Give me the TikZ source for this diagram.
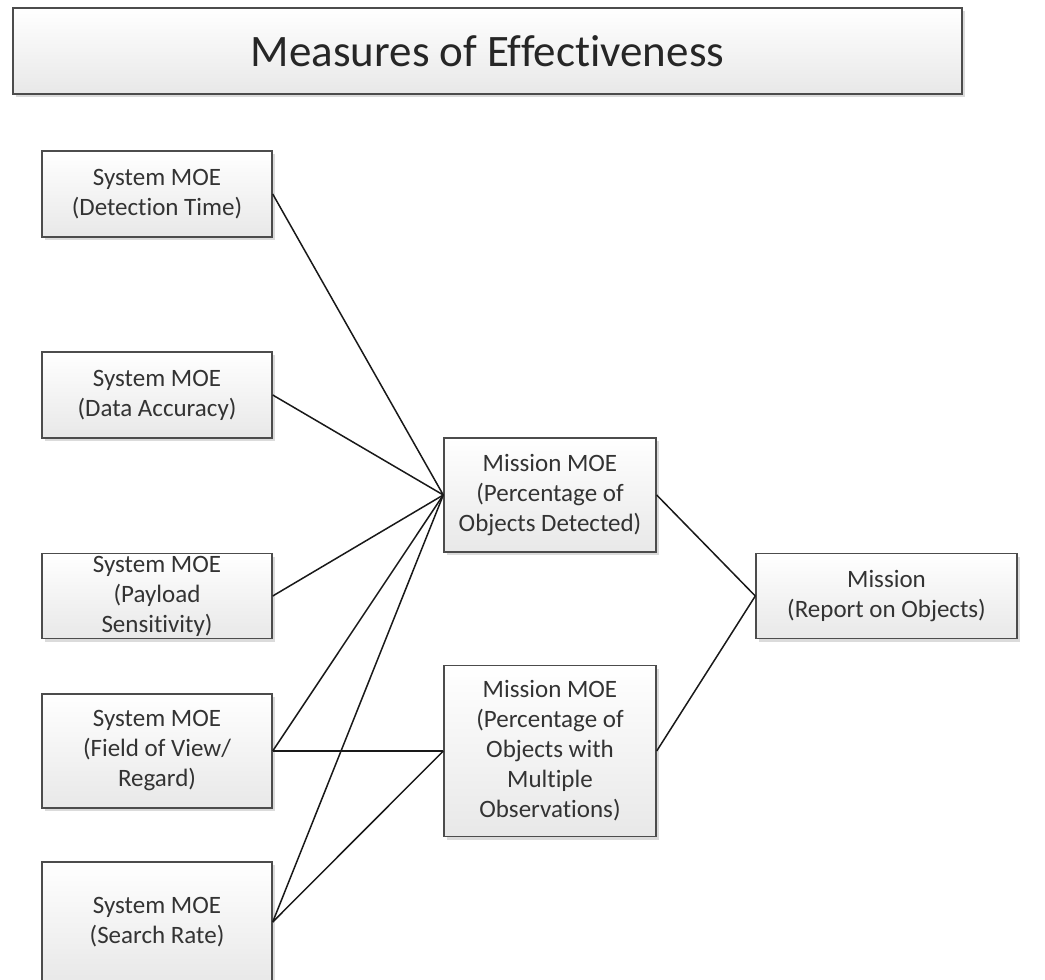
\documentclass[tikz,border=0pt]{standalone}
\usepackage{fontspec}
\setmainfont{Carlito}[Ligatures=NoCommon]
\usetikzlibrary{shadows}
\tikzset{
  box/.style={draw=black!70, line width=1.4pt, rectangle, inner sep=0pt,
    top color=white, bottom color=black!9, align=center, text=black!80,
    font=\fontsize{25}{30}\selectfont,
    drop shadow={shadow xshift=3pt, shadow yshift=-3pt, fill=black!14, opacity=1}},
  sysbox/.style={box, minimum width=230pt, minimum height=86pt},
  misbox/.style={box, minimum width=212pt},
  conn/.style={draw=black!90, line width=1.5pt}
}
\begin{document}
\begin{tikzpicture}[x=1pt,y=-1pt]
\useasboundingbox (0,0) rectangle (1045,980);
\clip (0,0) rectangle (1045,980);
\node[box, minimum width=949pt, minimum height=86pt, text=black!85,
  font=\fontsize{45}{50}\selectfont] (title) at (487.5,51) {Measures of Effectiveness};

\node[sysbox] (s1) at (157,194) {System MOE\\(Detection Time)};
\node[sysbox] (s2) at (157,395) {System MOE\\(Data Accuracy)};
\node[sysbox, minimum height=85pt] (s3) at (157,596) {System MOE\\(Payload\\Sensitivity)};
\node[sysbox, minimum height=114pt] (s4) at (157,751) {System MOE\\(Field of View/\\Regard)};
\node[sysbox, minimum height=120pt] (s5) at (157,922) {System MOE\\(Search Rate)};

\node[misbox, minimum height=114pt] (m1) at (550,495) {Mission MOE\\(Percentage of\\Objects Detected)};
\node[misbox, minimum height=171pt] (m2) at (550,751) {Mission MOE\\(Percentage of\\Objects with\\Multiple\\Observations)};

\node[box, minimum width=261pt, minimum height=85pt] (mis) at (886.5,596) {Mission\\(Report on Objects)};

\draw[conn] (s1.east) -- (m1.west);
\draw[conn] (s2.east) -- (m1.west);
\draw[conn] (s3.east) -- (m1.west);
\draw[conn] (s4.east) -- (m1.west);
\draw[conn] (s5.east) -- (m1.west);
\draw[conn] (s4.east) -- (m2.west);
\draw[conn] (s5.east) -- (m2.west);
\draw[conn] (m1.east) -- (mis.west);
\draw[conn] (m2.east) -- (mis.west);
\end{tikzpicture}
\end{document}
